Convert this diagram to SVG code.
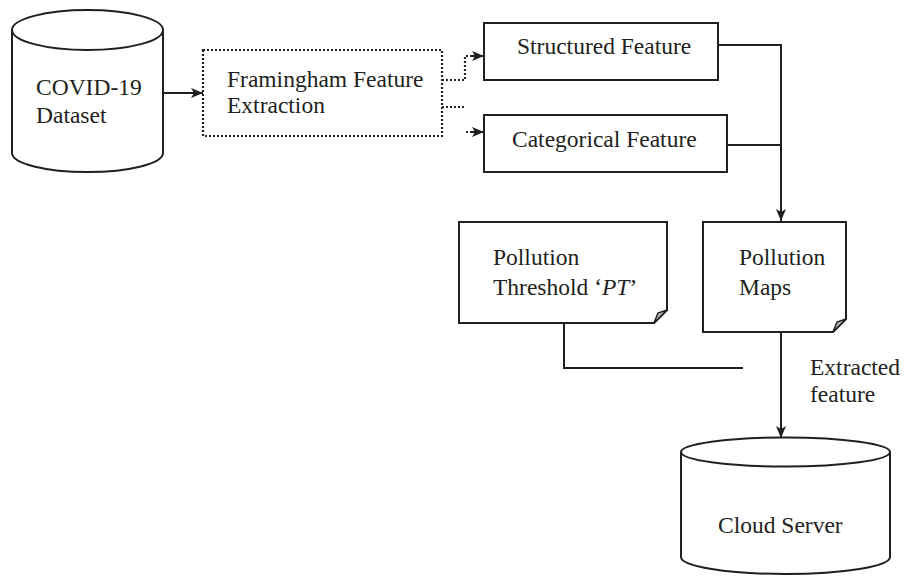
<svg xmlns="http://www.w3.org/2000/svg" width="904" height="577" viewBox="0 0 904 577">
<style>
text{font-family:"Liberation Serif","Times New Roman",serif;font-size:23.5px;fill:#231f20}
.s{fill:#fff;stroke:#231f20;stroke-width:2}
.c{fill:none;stroke:#231f20;stroke-width:2}
.d{fill:none;stroke:#231f20;stroke-width:2.2;stroke-dasharray:2 2}
.f{fill:#bbb;stroke:#231f20;stroke-width:1.5}
</style>
<defs>
<marker id="a" viewBox="0 0 12 10" refX="12" refY="5" markerWidth="12" markerHeight="10" markerUnits="userSpaceOnUse" orient="auto">
<path d="M0,0 L12,5 L0,10 L3,5 Z" fill="#231f20"/>
</marker>
</defs>
<g id="covid">
<path class="s" d="M12,30 A75.5,20 0 0 1 163,30 L163,153 A75.5,19 0 0 1 12,153 Z"/>
<path class="c" d="M12,30 A75.5,20 0 0 0 163,30"/>
<text x="36" y="95">COVID-19</text>
<text x="36" y="123">Dataset</text>
</g>
<g id="framingham">
<rect class="d" x="203" y="50" width="239" height="86"/>
<text x="227" y="87">Framingham Feature</text>
<text x="227" y="113">Extraction</text>
</g>
<g id="structured">
<rect class="s" x="484" y="23" width="234" height="57"/>
<text x="517" y="54">Structured Feature</text>
</g>
<g id="categorical">
<rect class="s" x="484" y="115" width="243" height="57"/>
<text x="512" y="147">Categorical Feature</text>
</g>
<g id="threshold">
<path class="s" d="M459,222 L667,222 L667,310 L654,323 L459,323 Z"/>
<path class="f" d="M654,323 L667,310 L658,313 Z"/>
<text x="493" y="265">Pollution</text>
<text x="493" y="295">Threshold ‘<tspan font-style="italic">PT</tspan>’</text>
</g>
<g id="maps">
<path class="s" d="M703,222 L846,222 L846,319 L833,332 L703,332 Z"/>
<path class="f" d="M833,332 L846,319 L837,322 Z"/>
<text x="739" y="265">Pollution</text>
<text x="739" y="295">Maps</text>
</g>
<g id="cloud">
<path class="s" d="M681,452 A104.5,14.5 0 0 1 890,452 L890,557 A104.5,17 0 0 1 681,557 Z"/>
<path class="c" d="M681,452 A104.5,14.5 0 0 0 890,452"/>
<text x="718" y="533">Cloud Server</text>
</g>
<g id="connectors">
<path class="c" d="M163,93 L203,93" marker-end="url(#a)"/>
<path class="d" d="M442,80 L465,80 L465,56 L470,56"/>
<path class="c" d="M470,56 L484,56" marker-end="url(#a)"/>
<path class="d" d="M442,107 L465,107"/>
<path class="d" d="M466,132 L471,132"/>
<path class="c" d="M471,132 L484,132" marker-end="url(#a)"/>
<path class="c" d="M718,45 L781,45 L781,221" marker-end="url(#a)"/>
<path class="c" d="M727,145 L781,145"/>
<path class="c" d="M564,323 L564,368 L743,368"/>
<path class="c" d="M781,332 L781,438" marker-end="url(#a)"/>
<text x="810" y="375">Extracted</text>
<text x="810" y="402">feature</text>
</g>
</svg>
